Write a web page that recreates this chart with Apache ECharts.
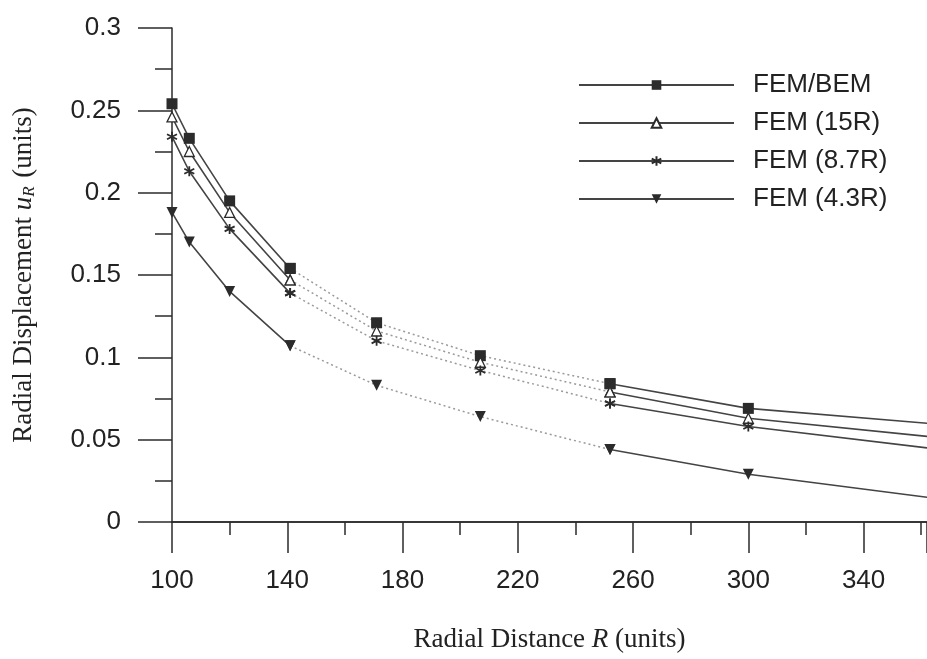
<!DOCTYPE html>
<html>
<head>
<meta charset="utf-8">
<script src="https://cdn.jsdelivr.net/npm/echarts@6/dist/echarts.min.js"></script>
<style>
  html, body { margin: 0; padding: 0; background: #fff; }
  #chart { width: 927px; height: 659px; }
</style>
</head>
<body>
<div id="chart"></div>
<script>
// radial distance R of the nodes (last one = where the curves leave the frame)
const radius = [100, 106, 120, 141, 171, 207, 252, 300, 362];
const femBem = [0.254, 0.233, 0.195, 0.154, 0.121, 0.101, 0.084, 0.069, 0.060];
const fem15R = [0.246, 0.225, 0.188, 0.147, 0.116, 0.097, 0.079, 0.063, 0.052];
const fem87R = [0.234, 0.213, 0.178, 0.139, 0.110, 0.092, 0.072, 0.058, 0.045];
const fem43R = [0.188, 0.170, 0.140, 0.107, 0.083, 0.064, 0.044, 0.029, 0.015];
const seriesNames = ['FEM/BEM', 'FEM (15R)', 'FEM (8.7R)', 'FEM (4.3R)'];
// segments 141 -> 252 came out faint / dotted in the print
const fadedFrom = 3, fadedTo = 6;

const ink = '#2b2b2b';
const txt = '#222';
const asterisk = 'path://M5 0L5 10M0.7 2.5L9.3 7.5M0.7 7.5L9.3 2.5';
const markers = [
  { symbol: 'rect', symbolSize: 11, symbolRotate: 0, itemStyle: { color: ink } },
  { symbol: 'triangle', symbolSize: 10, symbolRotate: 0, itemStyle: { color: '#fff', borderColor: ink, borderWidth: 1.3 } },
  { symbol: asterisk, symbolSize: 10, symbolRotate: 0, itemStyle: { color: ink, borderColor: ink, borderWidth: 1.8 } },
  { symbol: 'triangle', symbolSize: 11, symbolRotate: 180, itemStyle: { color: ink } }
];

const chart = echarts.init(document.getElementById('chart'));

const series = [];
[femBem, fem15R, fem87R, fem43R].forEach((vals, k) => {
  const last = radius.length - 1;
  const solid = radius.map((r, i) => {
    if (i > fadedFrom && i < fadedTo) return [r, '-'];
    if (i === last) return { value: [r, vals[i]], symbol: 'none' };
    return [r, vals[i]];
  });
  const faded = radius.slice(fadedFrom, fadedTo + 1).map((r, i) => [r, vals[fadedFrom + i]]);
  series.push({
    name: seriesNames[k] + ' ',
    type: 'line',
    data: faded,
    symbol: markers[k].symbol,
    symbolSize: markers[k].symbolSize,
    symbolRotate: markers[k].symbolRotate,
    itemStyle: markers[k].itemStyle,
    lineStyle: { color: '#9a9a9a', width: 1.5, type: [2, 3] },
    z: 2,
    animation: false
  });
  series.push({
    name: seriesNames[k],
    type: 'line',
    data: solid,
    connectNulls: false,
    symbol: markers[k].symbol,
    symbolSize: markers[k].symbolSize,
    symbolRotate: markers[k].symbolRotate,
    itemStyle: markers[k].itemStyle,
    lineStyle: { color: '#444', width: 1.6 },
    z: 3,
    animation: false
  });
});

chart.setOption({
  backgroundColor: '#fff',
  animation: false,
  grid: { left: 172, right: 0, top: 28, bottom: 137, containLabel: false },
  legend: {
    data: seriesNames,
    orient: 'vertical',
    left: 578,
    top: 72,
    padding: 0,
    itemWidth: 155,
    itemHeight: 12,
    itemGap: 12,
    textStyle: { fontFamily: 'Liberation Sans', fontSize: 26, color: txt, padding: [0, 0, 0, 14] }
  },
  xAxis: [{
    type: 'value',
    min: 100,
    max: 362,
    interval: 40,
    name: 'Radial Distance {i|R} (units)',
    nameLocation: 'middle',
    nameGap: 104,
    nameTextStyle: {
      fontFamily: 'Liberation Serif', fontSize: 27, color: txt,
      rich: { i: { fontFamily: 'Liberation Serif', fontSize: 27, fontStyle: 'italic', color: txt } }
    },
    axisLine: { show: true, onZero: false, lineStyle: { color: ink, width: 1.5 } },
    axisTick: { show: true, inside: false, length: 31, lineStyle: { color: ink, width: 1.5 } },
    minorTick: { show: true, splitNumber: 2, length: 13, lineStyle: { color: ink, width: 1.5 } },
    axisLabel: { margin: 46, fontFamily: 'Liberation Sans', fontSize: 26, color: txt, showMaxLabel: false },
    splitLine: { show: false },
    minorSplitLine: { show: false }
  }, {
    type: 'value',
    position: 'top',
    min: 100,
    max: 362,
    axisLine: { show: true, lineStyle: { color: ink, width: 1.5 } },
    axisTick: { show: false },
    axisLabel: { show: false },
    splitLine: { show: false }
  }],
  yAxis: {
    type: 'value',
    min: 0,
    max: 0.3,
    interval: 0.05,
    name: 'Radial Displacement {i|u}{sub|R} (units)',
    nameLocation: 'middle',
    nameGap: 134,
    nameTextStyle: {
      fontFamily: 'Liberation Serif', fontSize: 27, color: txt,
      rich: {
        i: { fontFamily: 'Liberation Serif', fontSize: 27, fontStyle: 'italic', color: txt },
        sub: { fontFamily: 'Liberation Serif', fontSize: 17, fontStyle: 'italic', color: txt, padding: [12, 2, 0, 0] }
      }
    },
    axisLine: { show: true, lineStyle: { color: ink, width: 1.5 } },
    axisTick: { show: true, length: 34, lineStyle: { color: ink, width: 1.5 } },
    minorTick: { show: true, splitNumber: 2, length: 17, lineStyle: { color: ink, width: 1.5 } },
    axisLabel: { margin: 51, fontFamily: 'Liberation Sans', fontSize: 26, color: txt },
    splitLine: { show: false },
    minorSplitLine: { show: false }
  },
  series: series
});
</script>
</body>
</html>
